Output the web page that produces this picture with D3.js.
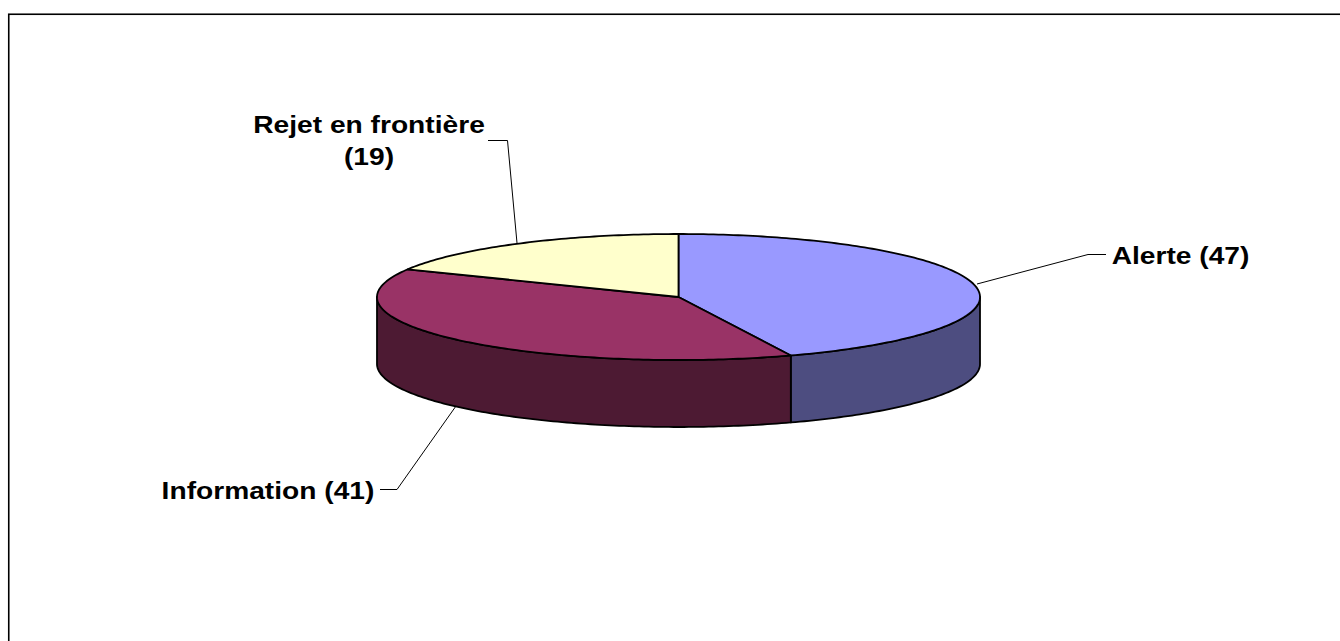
<!DOCTYPE html>
<html><head><meta charset="utf-8">
<script src="https://cdn.jsdelivr.net/npm/d3@7"></script>
<style>html,body{margin:0;padding:0;background:#fff;overflow:hidden}svg{display:block}
text{font-family:"Liberation Sans",Arial,sans-serif;font-weight:bold;fill:#000;font-size:23px}</style>
</head><body><svg id="c" width="1340" height="641"></svg>
<script>
const categories = ["Alerte","Information","Rejet en frontière"];
const values = [47,41,19];
const topColors = ["#9999FF","#993366","#FFFFCC"];
const sideColors = ["#4D4D80","#4D1A33","#80801A"];
const labelLines = [["Alerte (47)"],["Information (41)"],["Rejet en frontière","(19)"]];

const svg = d3.select("#c");
const cx=678.5, cy=297, rx=301.5, ry=63, depth=67;
const sx=d3.scaleLinear().domain([-1,1]).range([cx-rx,cx+rx]);
const sy=d3.scaleLinear().domain([-1,1]).range([cy-ry,cy+ry]);
const pie=d3.pie().sort(null).value(d=>d)(values);
const pt=(a,dz=0)=>[sx(Math.sin(a)),sy(-Math.cos(a))+dz];
const samples=(a0,a1,dz=0)=>{const n=Math.max(2,Math.ceil((a1-a0)*60));return d3.range(n+1).map(i=>pt(a0+(a1-a0)*i/n,dz));};
const line=d3.line();
const sw=1.8;

svg.append("rect").attr("x",8.75).attr("y",14.25).attr("width",1400).attr("height",700)
  .attr("fill","#fff").attr("stroke","#000").attr("stroke-width",1.6);

pie.forEach((d,i)=>{
  const a0=Math.max(d.startAngle,Math.PI/2), a1=Math.min(d.endAngle,3*Math.PI/2);
  if(a1<=a0) return;
  const pts=[...samples(a0,a1),...samples(a0,a1,depth).reverse()];
  svg.append("path").attr("d",line(pts)+"Z").attr("fill",sideColors[i])
    .attr("stroke","#000").attr("stroke-width",sw).attr("stroke-linejoin","round");
});
pie.forEach((d,i)=>{
  const pts=[[cx,cy],...samples(d.startAngle,d.endAngle)];
  svg.append("path").attr("d",line(pts)+"Z").attr("fill",topColors[i])
    .attr("stroke","#000").attr("stroke-width",sw).attr("stroke-linejoin","round");
});
const leaders=[[[977,284],[1088,254.5],[1106,254.5]],[[456,406],[397,489.5],[380,489.5]],[[517,243],[507.5,140.5],[488,140.5]]];
leaders.forEach(l=>svg.append("path").attr("d",line(l)).attr("fill","none").attr("stroke","#000").attr("stroke-width",1));
const anchors=[[1180.5,264],[268,498.5],[369,132.5]];
const stretch=1.225, lineGap=32.5;
labelLines.forEach((ls,i)=>{
  ls.forEach((s,j)=>svg.append("text").attr("text-anchor","middle")
    .attr("transform",`translate(${anchors[i][0]},${anchors[i][1]+j*lineGap}) scale(${stretch},1)`)
    .text(s));
});
</script></body></html>
